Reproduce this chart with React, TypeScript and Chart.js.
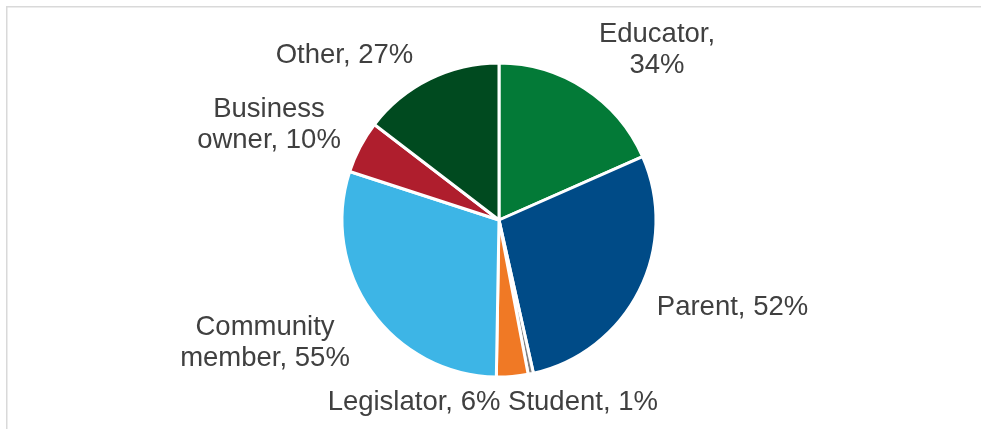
import React, { useEffect, useRef } from "react";
import { Chart, registerables } from "chart.js";

Chart.register(...registerables);

const categories = ["Educator", "Parent", "Student", "Legislator", "Community member", "Business owner", "Other"];
const values = [34, 52, 1, 6, 55, 10, 27];
const colors = ["#037A37", "#004B87", "#7F7F7F", "#F07925", "#3DB5E6", "#AF1E2D", "#004A1F"];

// label layout: offset of first baseline from pie centre, and whether to wrap at first space
const labelLayout = [
  { dx: 158, dy: -178, wrap: true },
  { dx: 233.5, dy: 95, wrap: false },
  { dx: 84, dy: 190, wrap: false },
  { dx: -85, dy: 190, wrap: false },
  { dx: -234, dy: 115, wrap: true },
  { dx: -230, dy: -103, wrap: true },
  { dx: -154.5, dy: -157, wrap: false },
];

const framePlugin = {
  id: "frame",
  beforeDraw(chart: any) {
    const ctx = chart.ctx;
    ctx.save();
    ctx.strokeStyle = "#D9D9D9";
    ctx.lineWidth = 1.5;
    ctx.beginPath();
    ctx.moveTo(6.75, chart.height);
    ctx.lineTo(6.75, 6.75);
    ctx.lineTo(chart.width, 6.75);
    ctx.stroke();
    ctx.restore();
  },
};

const labelPlugin = {
  id: "pieLabels",
  afterDatasetsDraw(chart: any) {
    const ctx = chart.ctx;
    const meta = chart.getDatasetMeta(0);
    const arc0 = meta.data[0];
    const cx = arc0.x;
    const cy = arc0.y;
    ctx.save();
    ctx.font = '27.5px "Liberation Sans", Arial, sans-serif';
    ctx.fillStyle = "#404040";
    ctx.textAlign = "center";
    ctx.textBaseline = "alphabetic";
    const lineH = 31;
    categories.forEach((cat, i) => {
      const txt = `${cat}, ${chart.data.datasets[0].data[i]}%`;
      const lay = labelLayout[i];
      let lines = [txt];
      if (lay.wrap) {
        const k = txt.indexOf(" ");
        lines = [txt.slice(0, k), txt.slice(k + 1)];
      }
      lines.forEach((ln, j) => {
        ctx.fillText(ln, cx + lay.dx, cy + lay.dy + j * lineH);
      });
    });
    ctx.restore();
  },
};

export default function App() {
  const ref = useRef<HTMLCanvasElement | null>(null);
  useEffect(() => {
    if (!ref.current) return;
    const chart = new Chart(ref.current, {
      type: "pie",
      data: {
        labels: categories,
        datasets: [
          {
            data: values,
            backgroundColor: colors,
            borderColor: "#FFFFFF",
            borderWidth: 3,
            radius: 157,
          } as any,
        ],
      },
      options: {
        animation: false,
        responsive: false,
        rotation: 0,
        layout: { padding: { left: 17, right: 0, top: 11, bottom: 0 } },
        plugins: {
          legend: { display: false },
          tooltip: { enabled: false },
          title: { display: false },
        },
      },
      plugins: [framePlugin, labelPlugin],
    });
    return () => chart.destroy();
  }, []);
  return (
    <div style={{ position: "fixed", left: 0, top: 0, width: 981, height: 429, background: "#FFFFFF" }}>
      <canvas ref={ref} width={981} height={429} style={{ display: "block", width: 981, height: 429 }} />
    </div>
  );
}
